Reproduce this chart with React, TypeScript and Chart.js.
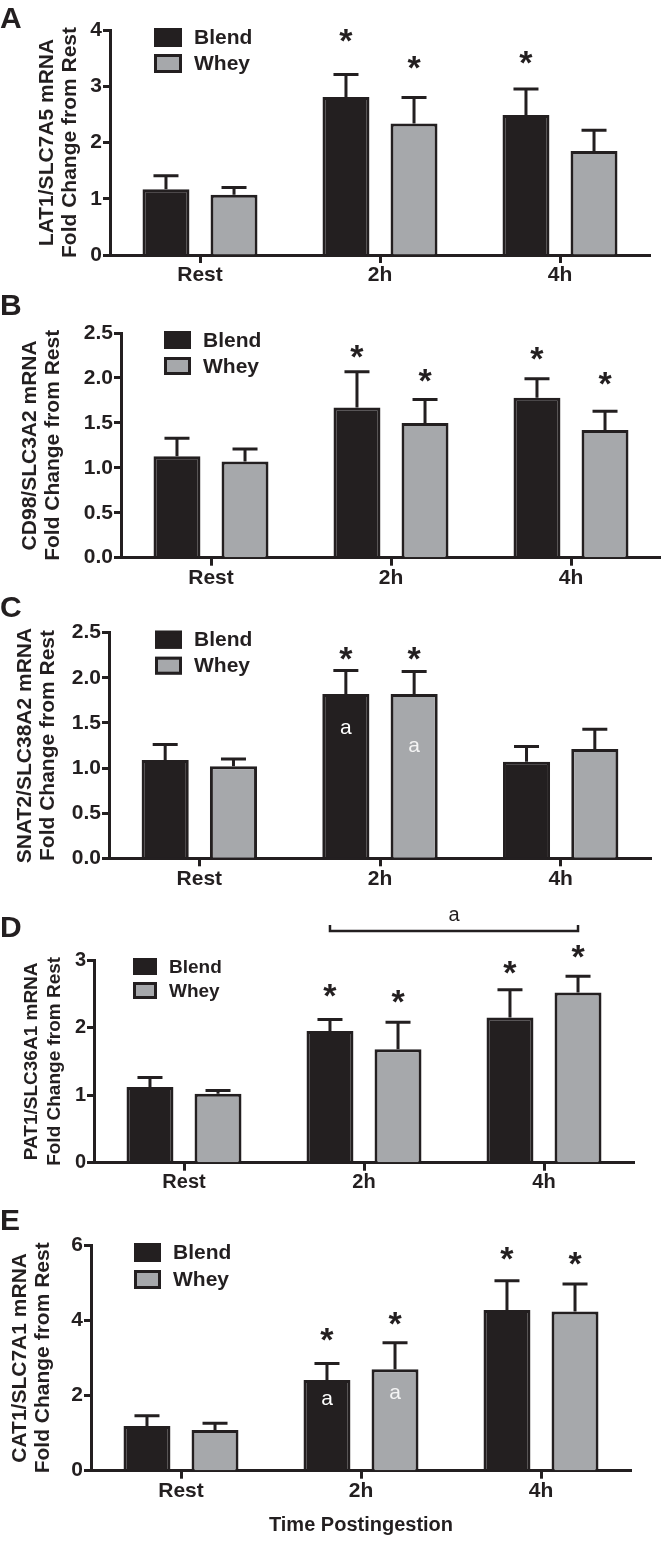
import React, { useEffect, useRef } from "react";
import { Chart, registerables } from "chart.js";

Chart.register(...registerables);

// ---------- data ----------
const categories = ["Rest", "2h", "4h"];
const seriesNames = ["Blend", "Whey"];

// A: LAT1/SLC7A5
const lat1Blend = [1.17, 2.81, 2.49];
const lat1BlendSem = [0.24, 0.4, 0.46];
const lat1Whey = [1.07, 2.34, 1.85];
const lat1WheySem = [0.13, 0.46, 0.37];
const lat1BlendStars = [null, 3.91, 3.52];
const lat1WheyStars = [null, 3.42, null];

// B: CD98/SLC3A2
const cd98Blend = [1.13, 1.67, 1.78];
const cd98BlendSem = [0.2, 0.4, 0.21];
const cd98Whey = [1.07, 1.5, 1.42];
const cd98WheySem = [0.14, 0.26, 0.21];
const cd98BlendStars = [null, 2.29, 2.27];
const cd98WheyStars = [null, 2.03, 1.99];

// C: SNAT2/SLC38A2
const snat2Blend = [1.09, 1.82, 1.07];
const snat2BlendSem = [0.17, 0.26, 0.17];
const snat2Whey = [1.02, 1.82, 1.21];
const snat2WheySem = [0.08, 0.25, 0.22];
const snat2BlendStars = [null, 2.27, null];
const snat2WheyStars = [null, 2.27, null];
const snat2BlendLetters = [null, 1.44, null];
const snat2WheyLetters = [null, 1.24, null];

// D: PAT1/SLC36A1
const pat1Blend = [1.12, 1.95, 2.15];
const pat1BlendSem = [0.14, 0.17, 0.41];
const pat1Whey = [1.02, 1.68, 2.52];
const pat1WheySem = [0.05, 0.4, 0.24];
const pat1BlendStars = [null, 2.55, 2.89];
const pat1WheyStars = [null, 2.46, 3.13];
const pat1Bracket = { from: [0, 1], to: [1, 2], value: 3.43, label: "a", labelValue: 3.66 };

// E: CAT1/SLC7A1
const cat1Blend = [1.19, 2.41, 4.27];
const cat1BlendSem = [0.27, 0.44, 0.78];
const cat1Whey = [1.08, 2.7, 4.23];
const cat1WheySem = [0.18, 0.7, 0.73];
const cat1BlendStars = [null, 3.61, 5.78];
const cat1WheyStars = [null, 4.05, 5.65];
const cat1BlendLetters = [null, 1.88, null];
const cat1WheyLetters = [null, 2.04, null];

const xAxisTitle = "Time Postingestion";

// ---------- styles ----------
const INK = "#231f20";
const BLEND = "#231f20";
const WHEY = "#a6a8ab";
const FAMILY = '"Liberation Sans", Arial, Helvetica, sans-serif';
Chart.defaults.font.family = FAMILY;

type Num = number | null;
type PanelCfg = {
  letter: string;
  titleLines: string[];
  yMax: number;
  yStep: number;
  decimals: number;
  means: number[][];
  sems: number[][];
  stars: Num[][];
  letters?: Num[][];
  bracket?: typeof pat1Bracket;
  xTitle?: string;
  top: number;
  chartTop: number;
  chartBottom: number;
  axisH: number;
  height: number;
  left: number;
  right: number;
  titlePad: number;
  titleFont: number;
  titleLH: number;
  tickFont: number;
  legendFont: number;
  legendDx: number;
  legendBox: [number, number, number];
  letterBase: number;
};

const panels: PanelCfg[] = [
  {
    letter: "A",
    titleLines: ["LAT1/SLC7A5 mRNA", "Fold Change from Rest"],
    yMax: 4, yStep: 1, decimals: 0,
    means: [lat1Blend, lat1Whey], sems: [lat1BlendSem, lat1WheySem],
    stars: [lat1BlendStars, lat1WheyStars],
    top: 0, chartTop: 30, chartBottom: 255, axisH: 45, height: 300,
    left: 110, right: 650, titlePad: 35.5, titleFont: 21, titleLH: 1.1,
    tickFont: 21, legendFont: 21, legendDx: 44, legendBox: [28, 19, 26], letterBase: 28,
  },
  {
    letter: "B",
    titleLines: ["CD98/SLC3A2 mRNA", "Fold Change from Rest"],
    yMax: 2.5, yStep: 0.5, decimals: 1,
    means: [cd98Blend, cd98Whey], sems: [cd98BlendSem, cd98WheySem],
    stars: [cd98BlendStars, cd98WheyStars],
    top: 290, chartTop: 43, chartBottom: 267.7, axisH: 45, height: 313,
    left: 121, right: 661, titlePad: 18.5, titleFont: 21, titleLH: 1.1,
    tickFont: 21, legendFont: 21, legendDx: 43, legendBox: [27, 18, 26], letterBase: 25,
  },
  {
    letter: "C",
    titleLines: ["SNAT2/SLC38A2 mRNA", "Fold Change from Rest"],
    yMax: 2.5, yStep: 0.5, decimals: 1,
    means: [snat2Blend, snat2Whey], sems: [snat2BlendSem, snat2WheySem],
    stars: [snat2BlendStars, snat2WheyStars],
    letters: [snat2BlendLetters, snat2WheyLetters],
    top: 585, chartTop: 47.7, chartBottom: 273.3, axisH: 45, height: 319,
    left: 109, right: 651, titlePad: 13.5, titleFont: 21, titleLH: 1.1,
    tickFont: 21, legendFont: 21, legendDx: 46, legendBox: [27, 18, 26], letterBase: 32,
  },
  {
    letter: "D",
    titleLines: ["PAT1/SLC36A1 mRNA", "Fold Change from Rest"],
    yMax: 3, yStep: 1, decimals: 0,
    means: [pat1Blend, pat1Whey], sems: [pat1BlendSem, pat1WheySem],
    stars: [pat1BlendStars, pat1WheyStars],
    bracket: pat1Bracket,
    top: 885, chartTop: 75, chartBottom: 277.7, axisH: 45, height: 323,
    left: 94, right: 634, titlePad: 20.6, titleFont: 19, titleLH: 1.2,
    tickFont: 20, legendFont: 19, legendDx: 39, legendBox: [24, 17, 24], letterBase: 52,
  },
  {
    letter: "E",
    titleLines: ["CAT1/SLC7A1 mRNA", "Fold Change from Rest"],
    yMax: 6, yStep: 2, decimals: 0,
    means: [cat1Blend, cat1Whey], sems: [cat1BlendSem, cat1WheySem],
    stars: [cat1BlendStars, cat1WheyStars],
    letters: [cat1BlendLetters, cat1WheyLetters],
    xTitle: xAxisTitle,
    top: 1200, chartTop: 45, chartBottom: 270.7, axisH: 67, height: 343,
    left: 91, right: 631, titlePad: 8.5, titleFont: 21, titleLH: 1.1,
    tickFont: 21, legendFont: 21, legendDx: 43, legendBox: [27, 19, 27], letterBase: 30,
  },
];

function centeredText(ctx: CanvasRenderingContext2D, text: string, x: number, cy: number) {
  ctx.textAlign = "center";
  ctx.textBaseline = "alphabetic";
  const m = ctx.measureText(text);
  const asc = m.actualBoundingBoxAscent;
  const desc = m.actualBoundingBoxDescent;
  ctx.fillText(text, x, cy + (asc - desc) / 2);
}

function makeOverlay(cfg: PanelCfg) {
  return {
    id: "overlay" + cfg.letter,
    afterDatasetsDraw(chart: any) {
      const ctx: CanvasRenderingContext2D = chart.ctx;
      const y = chart.scales.y;
      ctx.save();
      ctx.strokeStyle = INK;
      ctx.lineWidth = 3;
      ctx.lineCap = "butt";
      cfg.sems.forEach((sem, d) => {
        const meta = chart.getDatasetMeta(d);
        meta.data.forEach((bar: any, i: number) => {
          const v = cfg.means[d][i];
          const y0 = y.getPixelForValue(v);
          const y1 = y.getPixelForValue(v + sem[i]);
          ctx.beginPath();
          ctx.moveTo(bar.x, y0);
          ctx.lineTo(bar.x, y1);
          ctx.moveTo(bar.x - 12.5, y1);
          ctx.lineTo(bar.x + 12.5, y1);
          ctx.stroke();
        });
      });
      ctx.restore();
    },
    afterDraw(chart: any) {
      const ctx: CanvasRenderingContext2D = chart.ctx;
      const y = chart.scales.y;
      const area = chart.chartArea;
      ctx.save();
      // stars
      ctx.fillStyle = INK;
      ctx.font = `bold 34px ${FAMILY}`;
      cfg.stars.forEach((arr, d) => {
        const meta = chart.getDatasetMeta(d);
        arr.forEach((s, i) => {
          if (s == null) return;
          centeredText(ctx, "*", meta.data[i].x, y.getPixelForValue(s));
        });
      });
      // letters inside bars
      if (cfg.letters) {
        ctx.font = `21px ${FAMILY}`;
        cfg.letters.forEach((arr, d) => {
          const meta = chart.getDatasetMeta(d);
          ctx.fillStyle = d === 0 ? "#ffffff" : "#f4f4f4";
          arr.forEach((s, i) => {
            if (s == null) return;
            centeredText(ctx, "a", meta.data[i].x, y.getPixelForValue(s));
          });
        });
      }
      // bracket
      if (cfg.bracket) {
        const b = cfg.bracket;
        const x1 = chart.getDatasetMeta(b.from[0]).data[b.from[1]].x;
        const x2 = chart.getDatasetMeta(b.to[0]).data[b.to[1]].x;
        const by = y.getPixelForValue(b.value);
        ctx.strokeStyle = INK;
        ctx.lineWidth = 2.5;
        ctx.beginPath();
        ctx.moveTo(x1, by - 6);
        ctx.lineTo(x1, by);
        ctx.lineTo(x2, by);
        ctx.lineTo(x2, by - 6);
        ctx.stroke();
        ctx.fillStyle = INK;
        ctx.font = `20px ${FAMILY}`;
        centeredText(ctx, b.label, (x1 + x2) / 2, y.getPixelForValue(b.labelValue));
      }
      // legend
      const [bw, bh, step] = cfg.legendBox;
      const lx = area.left + cfg.legendDx;
      const ly = area.top - 2;
      [BLEND, WHEY].forEach((col, k) => {
        const ty = ly + k * step;
        ctx.fillStyle = col;
        ctx.fillRect(lx, ty, bw, bh);
        ctx.strokeStyle = INK;
        ctx.lineWidth = 3;
        ctx.strokeRect(lx + 1.5, ty + 1.5, bw - 3, bh - 3);
        ctx.fillStyle = INK;
        ctx.font = `bold ${cfg.legendFont}px ${FAMILY}`;
        ctx.textAlign = "left";
        ctx.textBaseline = "middle";
        ctx.fillText(seriesNames[k], lx + bw + 12, ty + bh / 2 + 1);
      });
      // panel letter
      ctx.fillStyle = INK;
      ctx.font = `bold 30px ${FAMILY}`;
      ctx.textAlign = "left";
      ctx.textBaseline = "alphabetic";
      ctx.fillText(cfg.letter, 0, cfg.letterBase);
      ctx.restore();
    },
  };
}

function Panel({ cfg }: { cfg: PanelCfg }) {
  const ref = useRef<HTMLCanvasElement>(null);
  useEffect(() => {
    const canvas = ref.current;
    if (!canvas) return;
    const chart = new Chart(canvas, {
      type: "bar",
      data: {
        labels: categories,
        datasets: cfg.means.map((m, d) => ({
          label: seriesNames[d],
          data: m,
          backgroundColor: d === 0 ? BLEND : WHEY,
          borderColor: INK,
          borderWidth: 3,
          categoryPercentage: 0.756,
          barPercentage: 0.69,
        })),
      },
      options: {
        responsive: false,
        animation: false,
        devicePixelRatio: 1,
        layout: {
          padding: {
            top: cfg.chartTop,
            left: 0,
            right: 661 - cfg.right,
            bottom: Math.max(0, cfg.height - cfg.chartBottom - cfg.axisH),
          },
        },
        plugins: {
          legend: { display: false },
          tooltip: { enabled: false },
        },
        scales: {
          x: {
            offset: true,
            grid: {
              offset: false,
              drawOnChartArea: false,
              drawTicks: true,
              tickLength: 8,
              tickWidth: 3,
              tickColor: INK,
            },
            border: { display: true, color: INK, width: 3 },
            ticks: {
              color: INK,
              padding: 0,
              font: { size: cfg.tickFont, weight: "bold" },
            },
            title: cfg.xTitle
              ? {
                  display: true,
                  text: cfg.xTitle,
                  color: INK,
                  font: { size: 20, weight: "bold", lineHeight: 1.2 },
                  padding: 0,
                }
              : { display: false },
            afterFit: (s: any) => {
              s.height = cfg.axisH;
            },
          },
          y: {
            min: 0,
            max: cfg.yMax,
            grid: {
              drawOnChartArea: false,
              drawTicks: true,
              tickLength: 7,
              tickWidth: 3,
              tickColor: INK,
            },
            border: { display: true, color: INK, width: 3 },
            ticks: {
              stepSize: cfg.yStep,
              color: INK,
              padding: 1,
              font: { size: cfg.tickFont, weight: "bold" },
              callback: (v: any) => Number(v).toFixed(cfg.decimals),
            },
            title: {
              display: true,
              text: cfg.titleLines,
              color: INK,
              font: { size: cfg.titleFont, weight: "bold", lineHeight: cfg.titleLH },
              padding: { top: cfg.titlePad, bottom: 0 },
            },
            afterFit: (s: any) => {
              s.width = cfg.left;
            },
          },
        },
      } as any,
      plugins: [makeOverlay(cfg)],
    });
    return () => chart.destroy();
  }, [cfg]);
  return (
    <canvas
      ref={ref}
      width={661}
      height={cfg.height}
      style={{ position: "absolute", left: 0, top: cfg.top, width: 661, height: cfg.height }}
    />
  );
}

export default function App() {
  return (
    <div
      style={{
        position: "absolute",
        left: 0,
        top: 0,
        width: 661,
        height: 1543,
        background: "#ffffff",
        overflow: "hidden",
      }}
    >
      {panels.map((p) => (
        <Panel key={p.letter} cfg={p} />
      ))}
    </div>
  );
}
